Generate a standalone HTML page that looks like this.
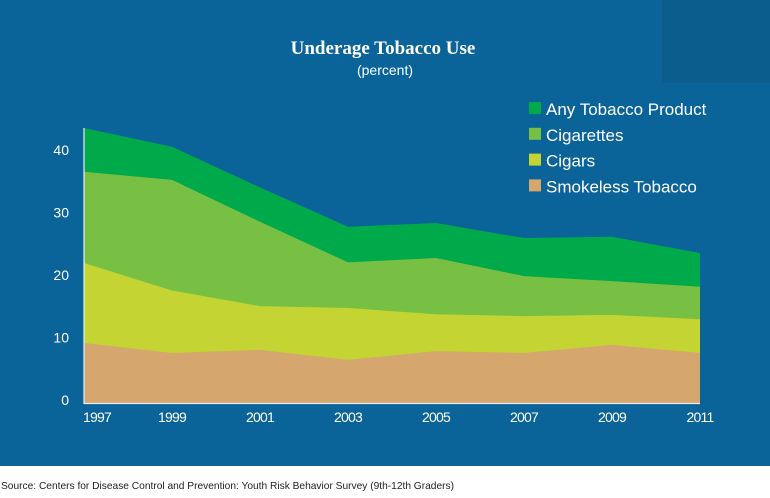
<!DOCTYPE html>
<html><head><meta charset="utf-8"><style>
body{margin:0;width:770px;height:493px;overflow:hidden;background:#fff;font-family:"Liberation Sans",sans-serif}
</style></head><body>
<svg width="770" height="493">
<rect x="0" y="0" width="770" height="466" fill="#0a6399"/>
<rect x="662" y="0" width="108" height="83" fill="#0b5d8e"/>
<text x="383" y="54" text-anchor="middle" fill="#fff" font-family="Liberation Serif" font-weight="bold" font-size="19">Underage Tobacco Use</text>
<text x="385" y="75" text-anchor="middle" fill="#fff" font-size="14">(percent)</text>
<g id="areas"></g>
<g id="axes"></g>
<g id="legend"></g>
<text x="1" y="489" fill="#222" font-size="10.2">Source: Centers for Disease Control and Prevention: Youth Risk Behavior Survey (9th-12th Graders)</text>
</svg>
<script>
const years=[1997,1999,2001,2003,2005,2007,2009,2011];
const anyTobacco=[44,41,34.5,28.2,28.8,26.4,26.6,24];
const cigarettes=[37,35.7,29,22.5,23.2,20.3,19.5,18.6];
const cigars=[22.4,18,15.5,15.2,14.2,13.9,14.1,13.4];
const smokeless=[9.6,8,8.5,6.9,8.3,8,9.3,8];
const yTicks=[0,10,20,30,40];
const seriesNames=["Any Tobacco Product","Cigarettes","Cigars","Smokeless Tobacco"];
const NS="http://www.w3.org/2000/svg";
const x=v=>84+(v-1997)*44;
const y=v=>403-v*6.25;
const colors=["#00a94a","#78c043","#c4d432","#d5a66e"];
const series=[anyTobacco,cigarettes,cigars,smokeless];
const areas=document.getElementById('areas');
series.forEach((s,i)=>{
  const p=document.createElementNS(NS,'path');
  let d='M'+x(years[0])+','+y(0);
  years.forEach((yr,j)=>d+=' L'+x(yr)+','+y(s[j]));
  d+=' L'+x(years[years.length-1])+','+y(0)+' Z';
  p.setAttribute('d',d);p.setAttribute('fill',colors[i]);
  
  
  areas.appendChild(p);
});
const axes=document.getElementById('axes');
function mk(tag,attrs,txt){const e=document.createElementNS(NS,tag);for(const k in attrs)e.setAttribute(k,attrs[k]);if(txt!==undefined)e.textContent=txt;axes.appendChild(e);return e;}
const yl=mk('line',{x1:84,y1:y(44),x2:84,y2:404,stroke:'#e8eef3','stroke-width':1.2});


const xl=mk('line',{x1:84,y1:403.5,x2:x(2011),y2:403.5,stroke:'#e8eef3','stroke-width':1.2});


yTicks.forEach(t=>{const e=mk('text',{x:69,y:y(t)+2,'text-anchor':'end',fill:'#fff','font-size':14},t);

});
years.forEach(yr=>{const e=mk('text',{x:x(yr),y:422,'text-anchor':(yr===1997?'start':'middle'),fill:'#fff','font-size':14,'letter-spacing':'-0.8'},yr);
if(yr===1997)e.setAttribute('x',x(yr)-1);

});
const lg=document.getElementById('legend');
seriesNames.forEach((n,i)=>{
  const r=document.createElementNS(NS,'rect');
  r.setAttribute('x',529);r.setAttribute('y',102+i*25.8);r.setAttribute('width',12);r.setAttribute('height',12);r.setAttribute('fill',colors[i]);
  
  
  lg.appendChild(r);
  const t=document.createElementNS(NS,'text');
  t.setAttribute('x',546);t.setAttribute('y',115+i*25.8);t.setAttribute('fill','#fff');t.setAttribute('font-size',17);
  t.textContent=n;
  
  
  lg.appendChild(t);
});
</script>
</body></html>
